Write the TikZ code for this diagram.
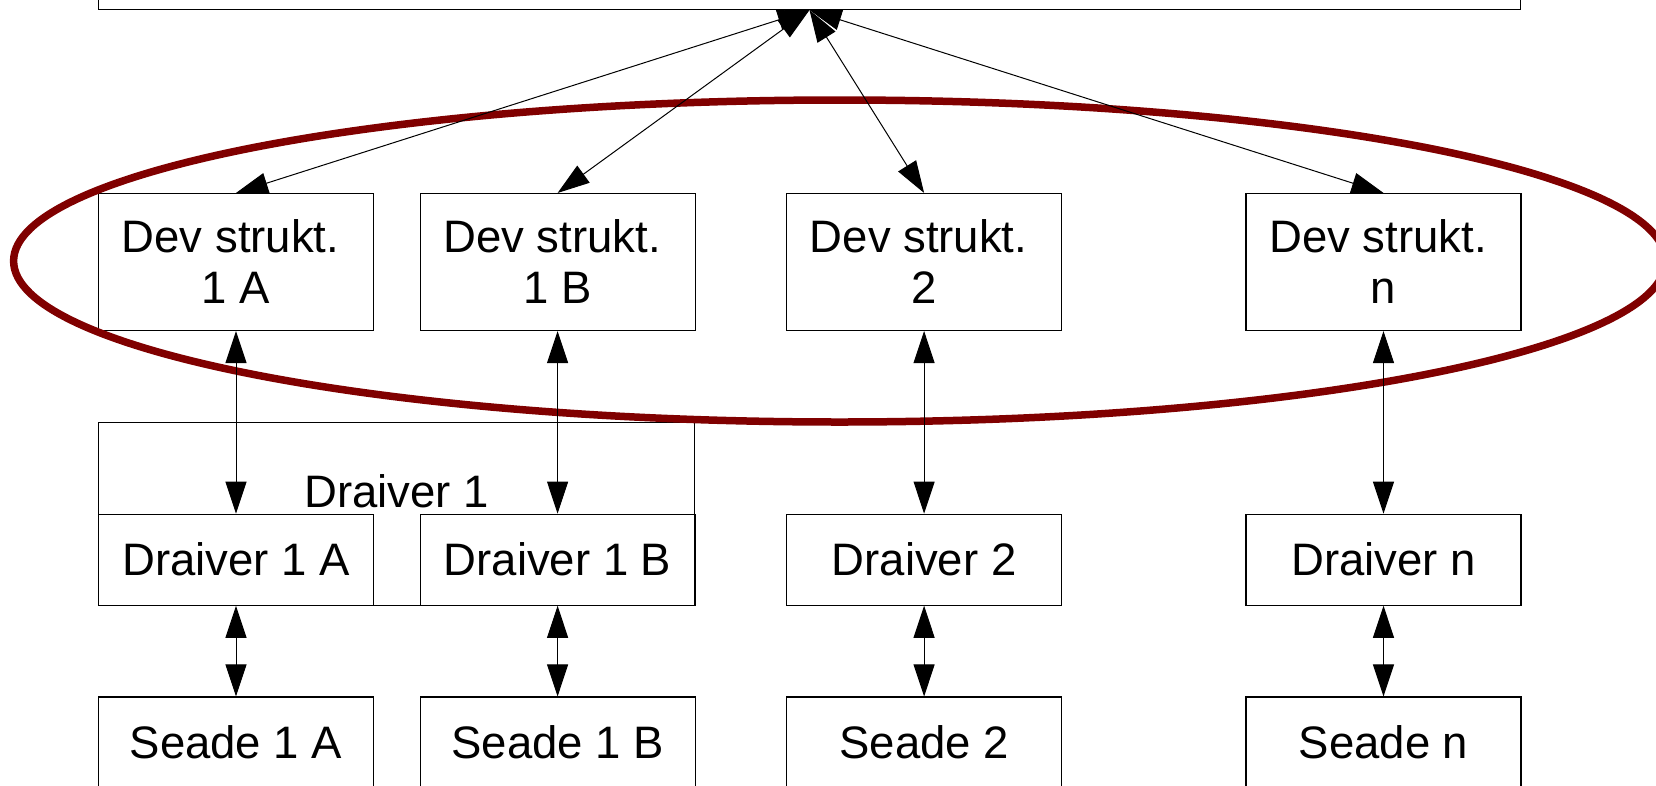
\documentclass[tikz,border=0pt]{standalone}
\usepackage{fontspec}
\setmainfont{Liberation Sans}
\usetikzlibrary{arrows.meta}
\definecolor{ringred}{HTML}{800000}
\newcommand{\trail}{\kern11pt}
\tikzset{
  box/.style={draw=black, line width=1.1pt, rectangle, inner sep=0pt,
    align=center, font=\fontsize{45.5}{51}\selectfont},
  colbox/.style={box, minimum width=275pt},
  devbox/.style={colbox, minimum height=137pt},
  drvbox/.style={colbox, minimum height=91pt},
  txt/.style={inner sep=0pt, font=\fontsize{45.5}{51}\selectfont},
  link/.style={line width=1pt, black,
    {Triangle[length=32pt,width=21pt]}-{Triangle[length=32pt,width=21pt]}},
  ring/.style={draw=ringred, line width=7.5pt}
}
\begin{document}
\begin{tikzpicture}[x=1pt, y=-1pt]
  \useasboundingbox (0,0) rectangle (1656,785);
  \clip (0,0) rectangle (1656,785);

  % upper block, mostly above the frame
  \node[box, minimum width=1422.6pt, minimum height=100pt] (top) at (809.5,-40.5) {};

  % device structures
  \node[devbox] (dev1a) at (236,262)    {Dev strukt.\trail\\1 A};
  \node[devbox] (dev1b) at (557.6,262)  {Dev strukt.\trail\\1 B};
  \node[devbox] (dev2)  at (924.1,262)  {Dev strukt.\trail\\2};
  \node[devbox] (devn)  at (1383.5,262) {Dev strukt.\trail\\n};

  % driver 1 enclosing block and its label
  \node[box, minimum width=596.7pt, minimum height=182.8pt] (drv1) at (396.5,513.8) {};
  \node[txt, anchor=base] (drv1t) at (396.5,507) {Draiver 1};

  % drivers
  \node[drvbox] (drv1a) at (236,559.7)    {Draiver 1 A};
  \node[drvbox] (drv1b) at (557.6,559.7)  {Draiver 1 B};
  \node[drvbox] (drv2)  at (924.1,559.7)  {Draiver 2};
  \node[drvbox] (drvn)  at (1383.5,559.7) {Draiver n};

  % devices
  \node[drvbox] (dv1a) at (236,742.5)    {Seade 1 A};
  \node[drvbox] (dv1b) at (557.6,742.5)  {Seade 1 B};
  \node[drvbox] (dv2)  at (924.1,742.5)  {Seade 2};
  \node[drvbox] (dvn)  at (1383.5,742.5) {Seade n};

  % ring around the device structure layer
  \draw[ring] (839.6,261) ellipse [x radius=826pt, y radius=161pt];

  % links to the upper block
  \draw[link] (top.south) -- (dev1a.north);
  \draw[link] (top.south) -- (dev1b.north);
  \draw[link] (top.south) -- (dev2.north);
  \draw[link] (top.south) -- (devn.north);

  % structure <-> driver
  \draw[link] (dev1a.south) -- (drv1a.north);
  \draw[link] (dev1b.south) -- (drv1b.north);
  \draw[link] (dev2.south)  -- (drv2.north);
  \draw[link] (devn.south)  -- (drvn.north);

  % driver <-> device
  \draw[link] (drv1a.south) -- (dv1a.north);
  \draw[link] (drv1b.south) -- (dv1b.north);
  \draw[link] (drv2.south)  -- (dv2.north);
  \draw[link] (drvn.south)  -- (dvn.north);
\end{tikzpicture}
\end{document}
